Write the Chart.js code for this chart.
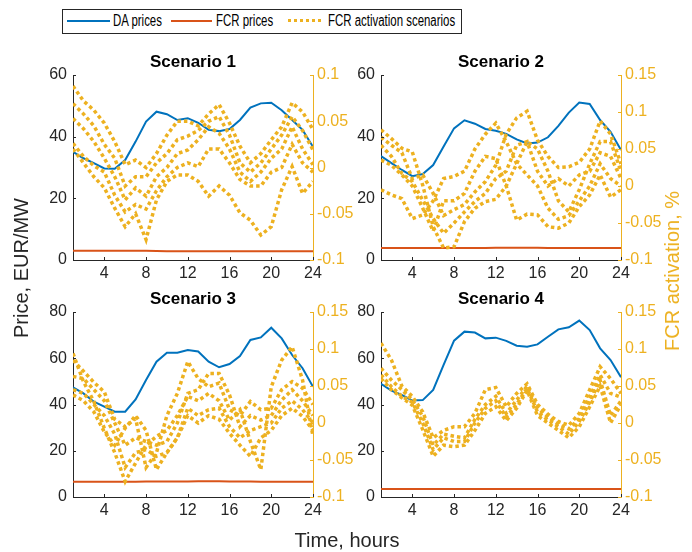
<!DOCTYPE html>
<html>
<head>
<meta charset="utf-8">
<script src="https://cdn.jsdelivr.net/npm/chart.js@4.4.1/dist/chart.umd.min.js"></script>
<style>
  body { margin: 0; background: #fff; font-family: "Liberation Sans", Arial, Helvetica, sans-serif; }
  #wrap { position: relative; width: 692px; height: 552px; overflow: hidden; }
  #wrap canvas { position: absolute; left: 0; top: 0; }
  .axis-label { position: absolute; white-space: nowrap; font-size: 20px; line-height: 20px; color: #262626; transform: translate(-50%, -50%); }
  .vertical { transform: translate(-50%, -50%) rotate(-90deg); }
  .lg-line { position: absolute; height: 2px; }
  .lg-text { position: absolute; top: 13px; font-size: 16px; line-height: 16px; color: #000; white-space: nowrap; transform: scaleX(0.715); transform-origin: 0 50%; }
</style>
</head>
<body>
<div id="wrap">
  <canvas id="c1" width="692" height="552"></canvas>
  <canvas id="c2" width="692" height="552"></canvas>
  <canvas id="c3" width="692" height="552"></canvas>
  <canvas id="c4" width="692" height="552"></canvas>

  <div style="position:absolute; left:62px; top:9px; width:398px; height:23px; border:1px solid #262626; background:#fff;"></div>
  <div class="lg-line" style="left:67px; top:20px; width:43px; background:#0072BD;"></div>
  <span class="lg-text" style="left:113px;">DA prices</span>
  <div class="lg-line" style="left:171px; top:20px; width:41px; background:#D95319;"></div>
  <span class="lg-text" style="left:216px;">FCR prices</span>
  <div class="lg-line" style="left:288px; top:19px; width:36px; height:3px; background:repeating-linear-gradient(90deg, #EDB120 0 3px, transparent 3px 6px);"></div>
  <span class="lg-text" style="left:328px;">FCR activation scenarios</span>

  <div class="axis-label vertical" style="left:21px; top:268px;">Price, EUR/MW</div>
  <div class="axis-label vertical" style="left:672px; top:271px; color:#EDB120;">FCR activation, %</div>
  <div class="axis-label" style="left:347px; top:540px;">Time, hours</div>
</div>

<script>
// --- Data ---
const hours = [1, 2, 3, 4, 5, 6, 7, 8, 9, 10, 11, 12, 13, 14, 15, 16, 17, 18, 19, 20, 21, 22, 23, 24];
const xTicks = [4, 8, 12, 16, 20, 24];
const priceTicksTop = [0, 20, 40, 60];
const priceTicksBottom = [0, 20, 40, 60, 80];
const actTicks1 = [-0.1, -0.05, 0, 0.05, 0.1];
const actTicks = [-0.1, -0.05, 0, 0.05, 0.1, 0.15];

// Scenario 1
const da1 = [35.1, 33.0, 31.4, 29.7, 29.6, 32.4, 38.4, 44.9, 48.1, 47.3, 45.4, 46.0, 44.5, 42.2, 41.8, 42.5, 45.4, 49.4, 50.8, 51.0, 48.6, 45.4, 42.2, 36.7];
const fcr1 = [3.0, 3.0, 3.0, 3.0, 3.0, 3.0, 3.0, 3.0, 2.9, 2.8, 2.8, 2.8, 2.8, 2.8, 2.8, 2.8, 2.8, 2.8, 2.8, 2.8, 2.8, 2.8, 2.8, 2.8];
const act1 = [
  [0.088, 0.072, 0.062, 0.048, 0.028, 0.003, 0.008, 0.000, 0.015, 0.035, 0.050, 0.050, 0.045, 0.058, 0.068, 0.048, 0.023, 0.005, 0.015, 0.030, 0.044, 0.070, 0.060, 0.041],
  [0.069, 0.058, 0.045, 0.025, 0.010, -0.020, -0.010, -0.010, 0.005, 0.015, 0.030, 0.034, 0.040, 0.050, 0.055, 0.035, 0.005, -0.005, 0.005, 0.020, 0.035, 0.055, 0.040, 0.019],
  [0.053, 0.042, 0.028, 0.010, -0.010, -0.035, -0.022, -0.031, -0.010, 0.000, 0.015, 0.019, 0.030, 0.044, 0.037, 0.020, -0.005, -0.015, -0.005, 0.010, 0.020, 0.044, 0.020, 0.003],
  [0.026, 0.012, 0.002, -0.005, -0.030, -0.048, -0.040, -0.045, -0.025, -0.010, 0.000, 0.005, 0.001, 0.020, 0.020, 0.005, -0.013, -0.020, -0.020, -0.005, 0.000, 0.025, 0.005, -0.005],
  [0.020, 0.005, -0.010, -0.022, -0.044, -0.064, -0.050, -0.078, -0.035, -0.015, -0.008, -0.008, -0.015, -0.031, -0.020, -0.030, -0.049, -0.057, -0.073, -0.064, -0.024, 0.001, -0.028, -0.015]
];

// Scenario 2
const da2 = [33.7, 31.4, 29.2, 27.2, 27.9, 30.8, 36.8, 42.7, 45.3, 44.2, 42.5, 41.9, 40.9, 39.1, 37.8, 38.1, 39.8, 43.5, 47.8, 51.1, 50.6, 45.4, 41.6, 35.7];
const fcr2 = [3.9, 3.9, 3.9, 3.9, 3.9, 3.9, 3.9, 3.9, 3.9, 3.9, 3.9, 4.0, 4.0, 4.0, 4.0, 4.0, 3.9, 3.9, 3.9, 3.9, 3.9, 3.9, 3.9, 3.9];
const act2 = [
  [0.076, 0.064, 0.051, 0.046, 0.001, -0.055, -0.084, -0.082, -0.048, -0.030, -0.021, -0.018, 0.000, 0.030, 0.060, 0.050, 0.020, -0.020, -0.035, -0.005, 0.030, 0.060, 0.060, 0.020],
  [0.066, 0.055, 0.045, 0.010, 0.015, -0.010, -0.040, -0.032, -0.025, -0.008, 0.006, 0.028, 0.070, 0.092, 0.101, 0.062, 0.040, 0.025, 0.026, 0.032, 0.050, 0.088, 0.070, 0.030],
  [0.055, 0.040, 0.017, 0.006, -0.019, -0.044, -0.064, -0.050, -0.035, -0.021, -0.010, 0.010, 0.020, 0.055, 0.060, 0.020, 0.000, 0.010, 0.000, 0.015, 0.020, 0.045, 0.040, 0.010],
  [0.035, 0.028, 0.015, 0.000, -0.030, -0.061, -0.020, -0.020, -0.010, 0.020, 0.040, 0.037, 0.000, -0.046, -0.038, -0.039, -0.055, -0.057, -0.050, -0.028, -0.012, 0.015, -0.015, -0.005],
  [-0.005, -0.012, -0.017, -0.044, -0.039, -0.020, 0.010, 0.013, 0.020, 0.050, 0.070, 0.085, 0.060, 0.030, 0.015, 0.000, -0.030, -0.045, -0.040, -0.020, 0.000, 0.030, 0.010, 0.000]
];

// Scenario 3
const da3 = [47.4, 44.8, 41.2, 39.1, 36.9, 36.9, 42.2, 50.6, 58.5, 62.4, 62.4, 63.6, 62.9, 58.5, 56.1, 57.5, 61.0, 67.9, 69.0, 73.2, 68.6, 61.4, 55.7, 47.7];
const fcr3 = [6.6, 6.6, 6.6, 6.6, 6.6, 6.6, 6.6, 6.7, 6.7, 6.7, 6.7, 6.7, 6.8, 6.8, 6.8, 6.7, 6.7, 6.7, 6.6, 6.6, 6.6, 6.6, 6.6, 6.6];
const act3 = [
  [0.094, 0.056, 0.029, -0.007, -0.040, -0.079, -0.054, -0.030, -0.018, -0.010, 0.010, 0.036, 0.030, 0.040, 0.030, 0.004, 0.018, -0.025, -0.063, 0.049, 0.085, 0.103, 0.058, -0.018],
  [0.085, 0.070, 0.055, 0.042, 0.005, -0.005, 0.006, -0.060, -0.040, 0.010, 0.040, 0.083, 0.060, 0.049, 0.054, 0.018, 0.010, 0.029, 0.018, 0.020, 0.045, 0.056, 0.047, 0.025],
  [0.063, 0.060, 0.045, 0.030, 0.000, -0.030, -0.020, -0.025, -0.030, -0.025, 0.000, 0.040, 0.045, 0.067, 0.067, 0.038, -0.005, 0.010, 0.004, 0.010, 0.031, 0.045, 0.030, 0.010],
  [0.045, 0.040, 0.025, 0.010, -0.015, -0.060, -0.040, -0.036, -0.045, -0.040, -0.020, 0.020, 0.010, 0.018, 0.020, -0.005, -0.020, -0.010, -0.005, 0.000, 0.020, 0.030, 0.018, 0.000],
  [0.038, 0.030, 0.015, -0.012, -0.030, -0.007, 0.010, -0.010, -0.063, -0.040, -0.020, 0.010, 0.000, 0.010, 0.005, -0.014, -0.030, -0.045, -0.020, -0.010, 0.010, 0.020, 0.009, -0.010]
];

// Scenario 4
const da4 = [48.9, 46.0, 44.1, 41.7, 41.9, 46.3, 57.1, 67.6, 71.5, 71.1, 68.6, 68.9, 67.5, 65.4, 65.0, 66.0, 69.3, 72.5, 73.4, 76.3, 72.2, 64.3, 59.2, 51.8];
const fcr4 = [3.5, 3.5, 3.5, 3.5, 3.5, 3.5, 3.5, 3.5, 3.5, 3.5, 3.5, 3.5, 3.5, 3.5, 3.5, 3.5, 3.5, 3.5, 3.5, 3.5, 3.5, 3.5, 3.5, 3.5];
const act4 = [
  [0.108, 0.085, 0.050, 0.036, 0.015, -0.020, -0.010, -0.005, -0.005, 0.013, 0.045, 0.048, 0.022, 0.040, 0.053, 0.025, 0.012, 0.002, -0.003, 0.013, 0.045, 0.076, 0.060, 0.040],
  [0.074, 0.058, 0.045, 0.031, 0.009, -0.030, -0.015, -0.018, -0.020, 0.005, 0.025, 0.036, 0.013, 0.031, 0.050, 0.020, 0.008, -0.002, -0.008, 0.006, 0.035, 0.065, 0.040, 0.035],
  [0.065, 0.049, 0.036, 0.028, 0.000, -0.036, -0.020, -0.025, -0.025, 0.000, 0.020, 0.030, 0.008, 0.025, 0.047, 0.015, 0.004, -0.005, -0.015, 0.002, 0.028, 0.058, 0.010, 0.030],
  [0.060, 0.045, 0.034, 0.024, -0.009, -0.045, -0.030, -0.032, -0.030, -0.010, 0.013, 0.022, 0.003, 0.020, 0.044, 0.010, 0.000, -0.010, -0.020, -0.005, 0.022, 0.050, 0.000, 0.025]
];

// --- Styling ---
const blue = '#0072BD';
const red = '#D95319';
const yellow = '#EDB120';
const axisColor = '#262626';
const fontFamily = '"Liberation Sans", Arial, Helvetica, sans-serif';

// MATLAB style tick marks pointing into the plot
const inwardTicks = {
    id: 'inwardTicks',
    afterDraw(chart) {
        const { ctx, chartArea: a, scales } = chart;
        const len = 3;
        ctx.save();
        ctx.lineWidth = 1;
        ctx.strokeStyle = axisColor;
        ctx.beginPath();
        scales.x.ticks.forEach(t => {
            const px = Math.round(scales.x.getPixelForValue(t.value)) + 0.5;
            ctx.moveTo(px, a.bottom);
            ctx.lineTo(px, a.bottom - len);
        });
        scales.y.ticks.forEach(t => {
            const py = Math.round(scales.y.getPixelForValue(t.value)) + 0.5;
            ctx.moveTo(a.left, py);
            ctx.lineTo(a.left + len, py);
        });
        ctx.stroke();
        ctx.strokeStyle = yellow;
        ctx.beginPath();
        scales.y1.ticks.forEach(t => {
            const py = Math.round(scales.y1.getPixelForValue(t.value)) + 0.5;
            ctx.moveTo(a.right, py);
            ctx.lineTo(a.right - len, py);
        });
        ctx.stroke();
        ctx.restore();
    }
};

const toPoints = values => values.map((v, i) => ({ x: hours[i], y: v }));

// box = plot area in page pixels
function makeChart(id, title, box, da, fcr, act, leftTicks, rightTicks) {
    const leftW = 40, rightW = 45, xH = 25, titleH = 21.5;

    const datasets = [];
    act.forEach(series => {
        datasets.push({
            data: toPoints(series),
            yAxisID: 'y1',
            borderColor: yellow,
            borderWidth: 3.5,
            borderDash: [3.5, 3],
            pointRadius: 0
        });
    });
    datasets.push({ data: toPoints(da), yAxisID: 'y', borderColor: blue, borderWidth: 2, pointRadius: 0 });
    datasets.push({ data: toPoints(fcr), yAxisID: 'y', borderColor: red, borderWidth: 2, pointRadius: 0 });

    const tickFont = { family: fontFamily, size: 16 };
    const noGrid = { display: false, drawTicks: false };

    new Chart(document.getElementById(id), {
        type: 'line',
        data: { datasets: datasets },
        options: {
            responsive: false,
            animation: false,
            events: [],
            layout: {
                padding: {
                    left: box.left - leftW,
                    right: 692 - box.right - rightW,
                    top: box.top - titleH,
                    bottom: 552 - box.bottom - xH
                }
            },
            plugins: {
                legend: { display: false },
                tooltip: { enabled: false },
                title: {
                    display: true,
                    text: title,
                    fullSize: false,
                    color: '#000',
                    font: { family: fontFamily, size: 17, weight: 'bold', lineHeight: 1 },
                    padding: { top: 0, bottom: 4.5 }
                }
            },
            scales: {
                x: {
                    type: 'linear',
                    min: 1,
                    max: 24,
                    grid: noGrid,
                    border: { color: axisColor, width: 1 },
                    ticks: { font: tickFont, color: axisColor, padding: 4, maxRotation: 0 },
                    afterBuildTicks: s => { s.ticks = xTicks.map(v => ({ value: v })); },
                    afterFit: s => { s.height = xH; }
                },
                y: {
                    position: 'left',
                    min: leftTicks[0],
                    max: leftTicks[leftTicks.length - 1],
                    grid: noGrid,
                    border: { color: axisColor, width: 1 },
                    ticks: { font: tickFont, color: axisColor, padding: 6 },
                    afterBuildTicks: s => { s.ticks = leftTicks.map(v => ({ value: v })); },
                    afterFit: s => { s.width = leftW; }
                },
                y1: {
                    position: 'right',
                    min: rightTicks[0],
                    max: rightTicks[rightTicks.length - 1],
                    grid: noGrid,
                    border: { color: yellow, width: 1 },
                    ticks: { font: tickFont, color: yellow, padding: 4, callback: v => String(v) },
                    afterBuildTicks: s => { s.ticks = rightTicks.map(v => ({ value: v })); },
                    afterFit: s => { s.width = rightW; }
                }
            }
        },
        plugins: [inwardTicks]
    });
}

makeChart('c1', 'Scenario 1', { left: 73, right: 313, top: 75, bottom: 260 }, da1, fcr1, act1, priceTicksTop, actTicks1);
makeChart('c2', 'Scenario 2', { left: 381, right: 621, top: 75, bottom: 260 }, da2, fcr2, act2, priceTicksTop, actTicks);
makeChart('c3', 'Scenario 3', { left: 73, right: 313, top: 312, bottom: 497 }, da3, fcr3, act3, priceTicksBottom, actTicks);
makeChart('c4', 'Scenario 4', { left: 381, right: 621, top: 312, bottom: 497 }, da4, fcr4, act4, priceTicksBottom, actTicks);
</script>
</body>
</html>
